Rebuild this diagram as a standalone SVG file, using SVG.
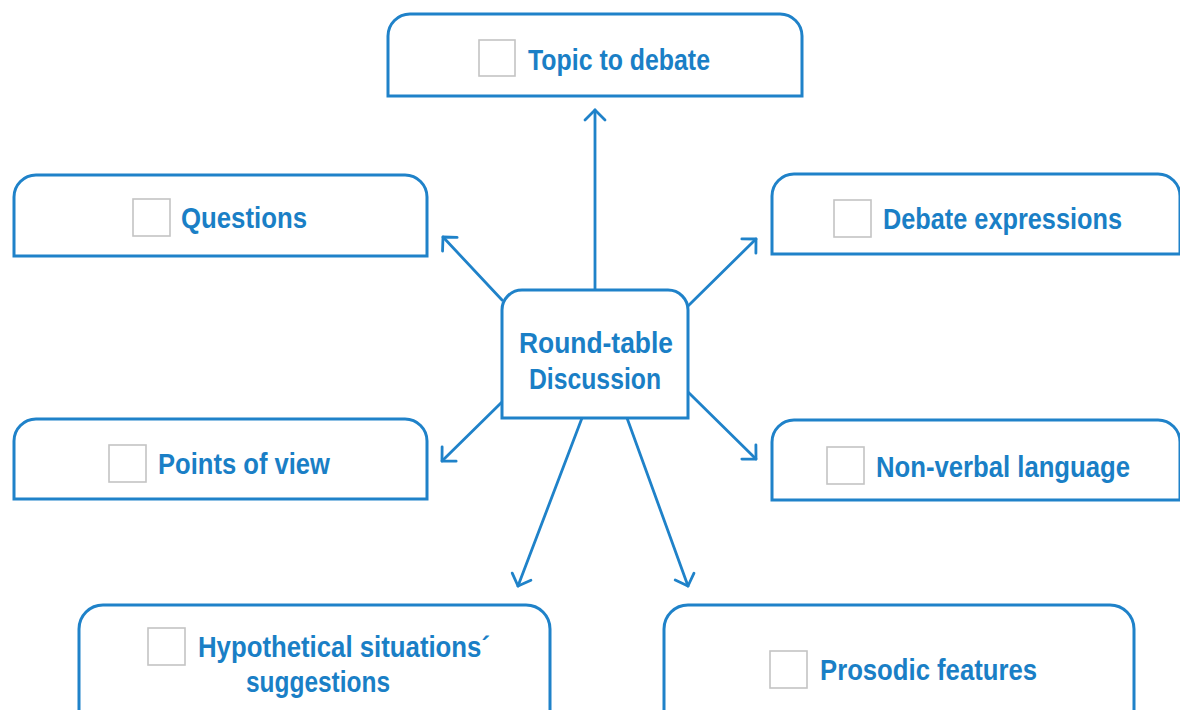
<svg xmlns="http://www.w3.org/2000/svg" width="1180" height="710" viewBox="0 0 1180 710">
  <defs>
    <style>
      .box { fill: #ffffff; stroke: #1f82c9; stroke-width: 3; }
      .chk { fill: #ffffff; stroke: #c4c4c4; stroke-width: 1.6; }
      .lbl { font-family: "Liberation Sans", Arial, sans-serif; font-weight: bold; font-size: 30px; fill: #1a7fc6; }
      .link { fill: none; stroke: #1f82c9; stroke-width: 2.8; stroke-linecap: round; }
    </style>
    <marker id="head" viewBox="0 0 24 24" refX="12" refY="12" markerWidth="24" markerHeight="24" markerUnits="userSpaceOnUse" orient="auto">
      <path d="M2,2 L12,12 L2,22" fill="none" stroke="#1f82c9" stroke-width="2.8" stroke-linecap="round" stroke-linejoin="round"/>
    </marker>
  </defs>
  <rect width="1180" height="710" fill="#ffffff"/>

  <!-- connectors from the central node -->
  <g id="connectors">
    <line class="link" x1="595" y1="290" x2="595" y2="110" marker-end="url(#head)"/>
    <line class="link" x1="502" y1="300" x2="443" y2="237" marker-end="url(#head)"/>
    <line class="link" x1="688" y1="306" x2="756" y2="239" marker-end="url(#head)"/>
    <line class="link" x1="502" y1="402" x2="442" y2="461" marker-end="url(#head)"/>
    <line class="link" x1="688" y1="392" x2="756" y2="459" marker-end="url(#head)"/>
    <line class="link" x1="582" y1="418" x2="518" y2="586" marker-end="url(#head)"/>
    <line class="link" x1="627" y1="418" x2="688" y2="586" marker-end="url(#head)"/>
  </g>

  <g id="center">
    <path class="box" d="M502,418 V310 A20,20 0 0 1 522,290 H668 A20,20 0 0 1 688,310 V418 Z"/>
    <text class="lbl" x="596" y="353" text-anchor="middle" textLength="154" lengthAdjust="spacingAndGlyphs">Round-table</text>
    <text class="lbl" x="595" y="389" text-anchor="middle" textLength="132" lengthAdjust="spacingAndGlyphs">Discussion</text>
  </g>

  <g id="topic">
    <path class="box" d="M388,96 V36 A22,22 0 0 1 410,14 H780 A22,22 0 0 1 802,36 V96 Z"/>
    <rect class="chk" x="479" y="40" width="36" height="36"/>
    <text class="lbl" x="528" y="70" textLength="182" lengthAdjust="spacingAndGlyphs">Topic to debate</text>
  </g>

  <g id="questions">
    <path class="box" d="M14,256 V197 A22,22 0 0 1 36,175 H405 A22,22 0 0 1 427,197 V256 Z"/>
    <rect class="chk" x="133" y="199" width="37" height="37"/>
    <text class="lbl" x="181" y="228" textLength="126" lengthAdjust="spacingAndGlyphs">Questions</text>
  </g>

  <g id="debate-expressions">
    <path class="box" d="M772,254 V196 A22,22 0 0 1 794,174 H1158 A22,22 0 0 1 1180,196 V254 Z"/>
    <rect class="chk" x="834" y="200" width="37" height="37"/>
    <text class="lbl" x="883" y="229" textLength="239" lengthAdjust="spacingAndGlyphs">Debate expressions</text>
  </g>

  <g id="points-of-view">
    <path class="box" d="M14,499 V441 A22,22 0 0 1 36,419 H405 A22,22 0 0 1 427,441 V499 Z"/>
    <rect class="chk" x="109" y="445" width="37" height="37"/>
    <text class="lbl" x="158" y="474" textLength="172" lengthAdjust="spacingAndGlyphs">Points of view</text>
  </g>

  <g id="non-verbal-language">
    <path class="box" d="M772,500 V442 A22,22 0 0 1 794,420 H1158 A22,22 0 0 1 1180,442 V500 Z"/>
    <rect class="chk" x="827" y="447" width="37" height="37"/>
    <text class="lbl" x="876" y="477" textLength="254" lengthAdjust="spacingAndGlyphs">Non-verbal language</text>
  </g>

  <g id="hypothetical-situations">
    <path class="box" d="M79,720 V629 A24,24 0 0 1 103,605 H526 A24,24 0 0 1 550,629 V720"/>
    <rect class="chk" x="148" y="628" width="37" height="37"/>
    <text class="lbl" x="198" y="657" textLength="292" lengthAdjust="spacingAndGlyphs">Hypothetical situations´</text>
    <text class="lbl" x="318" y="692" text-anchor="middle" textLength="144" lengthAdjust="spacingAndGlyphs">suggestions</text>
  </g>

  <g id="prosodic-features">
    <path class="box" d="M664,720 V629 A24,24 0 0 1 688,605 H1110 A24,24 0 0 1 1134,629 V720"/>
    <rect class="chk" x="770" y="651" width="37" height="37"/>
    <text class="lbl" x="820" y="680" textLength="217" lengthAdjust="spacingAndGlyphs">Prosodic features</text>
  </g>
</svg>
